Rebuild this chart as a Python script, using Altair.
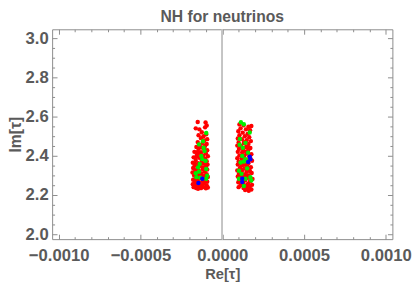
import altair as alt
import pandas as pd

# values of Re[tau] are given in units of 1e-4
XUNIT = 1e-4

red_x = [-1.50,-1.02,-0.95,-1.62,-1.40,-1.05,-1.25,-0.98,-1.45,-1.15,-1.30,-0.92,-1.10,-1.50,-1.20,-0.95,-1.38,-1.05,-1.58,-1.25,
         -1.45,-1.10,-0.92,-1.70,-1.30,-1.00,-1.55,-1.18,-0.88,-1.75,-1.40,-1.05,-1.62,-1.25,-0.95,-1.80,-1.48,-1.12,-0.90,-1.68,
         -1.35,-1.00,-1.78,-1.52,-1.20,-0.92,-1.65,-1.40,-1.08,-1.82,-1.55,-1.28,-0.95,-1.72,-1.45,-1.15,-0.88,-1.60,-1.32,-1.02,
         -1.78,-1.50,-1.20,-0.92,-1.68,-1.38,-1.10,-1.80,-1.55,-1.25,-0.95,-1.70,-1.42,-1.12,-0.88,-1.60,-1.30,-1.00,-1.48,-1.75,
         -1.58,-1.22,-1.60,-1.05,-1.45,-1.65,-1.35,-1.15,-1.38,-1.50,-1.70,-1.28,-1.05,-1.40,
         1.05,1.30,1.78,1.60,1.12,1.45,1.70,0.98,1.25,1.55,1.05,1.38,1.65,0.95,1.20,1.50,1.75,1.00,1.32,1.60,
         0.92,1.15,1.45,1.72,1.02,1.28,1.58,0.95,1.22,1.50,1.78,1.05,1.35,1.65,0.92,1.18,1.45,1.82,1.00,1.30,
         1.60,0.95,1.22,1.52,1.75,1.08,1.38,1.65,0.92,1.20,1.48,1.80,1.02,1.32,1.60,0.95,1.25,1.55,1.85,1.10,
         1.40,1.70,0.98,1.28,1.58,1.82,1.12,1.42,1.68,1.00,1.30,1.55,1.78,1.40,1.62,1.15,1.45,1.62,1.10,1.40,
         1.70,1.25,1.35,1.50,1.05,1.72,1.20,1.55,1.35]
red_y = [2.572,2.570,2.555,2.540,2.535,2.545,2.520,2.510,2.505,2.500,2.490,2.485,2.478,2.470,2.465,2.460,2.455,2.450,2.445,2.442,
         2.435,2.432,2.428,2.420,2.418,2.412,2.405,2.402,2.398,2.392,2.390,2.385,2.378,2.375,2.372,2.365,2.362,2.360,2.355,2.350,
         2.348,2.345,2.338,2.335,2.333,2.330,2.325,2.322,2.320,2.315,2.312,2.310,2.306,2.300,2.298,2.295,2.292,2.288,2.285,2.282,
         2.278,2.275,2.272,2.268,2.265,2.262,2.260,2.255,2.252,2.250,2.248,2.245,2.242,2.240,2.238,2.236,2.235,2.234,2.232,2.240,
         2.395,2.395,2.310,2.300,2.350,2.280,2.300,2.340,2.410,2.420,2.360,2.360,2.270,2.250,
         2.560,2.555,2.552,2.548,2.540,2.535,2.530,2.525,2.518,2.512,2.505,2.500,2.495,2.488,2.485,2.480,2.475,2.468,2.465,2.460,
         2.452,2.450,2.445,2.440,2.435,2.432,2.428,2.420,2.418,2.412,2.408,2.402,2.400,2.395,2.388,2.385,2.380,2.375,2.370,2.368,
         2.362,2.355,2.352,2.348,2.342,2.338,2.335,2.330,2.325,2.322,2.318,2.312,2.308,2.305,2.300,2.295,2.292,2.288,2.282,2.280,
         2.275,2.270,2.265,2.262,2.258,2.252,2.250,2.246,2.242,2.240,2.236,2.232,2.228,2.225,2.222,2.300,2.420,2.440,2.360,2.300,
         2.320,2.395,2.470,2.250,2.275,2.385,2.330,2.370,2.355]

green_x = [-0.98,-1.42,-1.18,-1.28,-1.22,-1.38,-1.02,-0.98,-1.62,-1.58,-1.34,-0.98,-1.42,-1.08,-1.14,-0.92,-1.48,
           1.14,1.32,1.68,1.08,1.06,1.42,1.26,1.58,1.42,1.12,1.32,1.02,1.52,1.18,1.72,1.42,1.02,1.32,1.78,1.22]
green_y = [2.516,2.458,2.474,2.399,2.383,2.358,2.374,2.333,2.311,2.291,2.288,2.283,2.319,2.424,2.441,2.299,2.341,
           2.571,2.561,2.519,2.486,2.456,2.466,2.441,2.416,2.383,2.366,2.371,2.324,2.336,2.308,2.291,2.283,2.283,2.246,2.274,2.399]

blue_x = [-1.22,-1.46,1.68,1.72,1.58,1.22,1.22]
blue_y = [2.283,2.261,2.396,2.383,2.369,2.283,2.266]

groups = ["red", "green", "blue"]
colors = ["#ff0000", "#00ee00", "#0000ff"]

x_major = [-0.0010, -0.0005, 0.0, 0.0005, 0.0010]
x_minor = [-0.0009,-0.0008,-0.0007,-0.0006,-0.0004,-0.0003,-0.0002,-0.0001,
           0.0001,0.0002,0.0003,0.0004,0.0006,0.0007,0.0008,0.0009]
y_major = [2.0, 2.2, 2.4, 2.6, 2.8, 3.0]
y_minor = [2.05,2.1,2.15,2.25,2.3,2.35,2.45,2.5,2.55,2.65,2.7,2.75,2.85,2.9,2.95]
x_domain = [-0.00104, 0.00104]
y_domain = [1.975, 3.045]

rows = []
for g, xs_, ys_ in [("red", red_x, red_y), ("green", green_x, green_y), ("blue", blue_x, blue_y)]:
    for a, b in zip(xs_, ys_):
        rows.append({"re": a * XUNIT, "im": b, "g": g, "o": groups.index(g)})
df = pd.DataFrame(rows)

W, H = 347, 214
FONT = "Liberation Sans"
TXT = "#5a5a5a"
FRAME = "#8c8c8c"
MAJ, MIN = 5, 2.5

xs = alt.Scale(domain=x_domain, nice=False, zero=False)
ys = alt.Scale(domain=y_domain, nice=False, zero=False)


def tick_axis(orient, off, values, size):
    return alt.Axis(orient=orient, offset=off, values=values, labels=False, domain=False, grid=False,
                    title=None, tickColor=FRAME, tickWidth=1, tickSize=size)


zero = alt.Chart(df).mark_rule(color="#c4c4c4", strokeWidth=1).encode(
    x=alt.XDatum(0, type="quantitative", scale=xs, axis=None)
)

pts = alt.Chart(df).mark_circle(size=20, opacity=1).encode(
    x=alt.X("re:Q", scale=xs, axis=alt.Axis(
        orient="bottom", values=x_major, format=".4f", ticks=False, tickSize=0, domain=False, grid=False,
        labelFont=FONT, labelFontSize=17, labelFontWeight="bold", labelColor=TXT, labelPadding=9,
        labelOverlap=False, title="Re[τ]", titleFont=FONT, titleFontSize=15, titleFontWeight="bold",
        titleColor=TXT, titlePadding=3)),
    y=alt.Y("im:Q", scale=ys, axis=alt.Axis(
        orient="left", values=y_major, format=".1f", ticks=False, tickSize=0, domain=False, grid=False,
        labelFont=FONT, labelFontSize=17, labelFontWeight="bold", labelColor=TXT, labelPadding=4,
        title="Im[τ]", titleFont=FONT, titleFontSize=16, titleFontWeight="bold",
        titleColor=TXT, titlePadding=2)),
    color=alt.Color("g:N", scale=alt.Scale(domain=groups, range=colors), legend=None),
    order=alt.Order("o:Q"),
)

# inward major ticks on bottom and left edges
t_major = alt.Chart(df).mark_point(opacity=0).encode(
    x=alt.X("re:Q", scale=xs, axis=tick_axis("bottom", -MAJ, x_major, MAJ)),
    y=alt.Y("im:Q", scale=ys, axis=tick_axis("left", -MAJ, y_major, MAJ)),
)
# inward minor ticks on bottom and left edges
t_minor = alt.Chart(df).mark_point(opacity=0).encode(
    x=alt.X("re:Q", scale=xs, axis=tick_axis("bottom", -MIN, x_minor, MIN)),
    y=alt.Y("im:Q", scale=ys, axis=tick_axis("left", -MIN, y_minor, MIN)),
)
# inward ticks on top and right edges
t_far = alt.Chart(df).mark_point(opacity=0).encode(
    x=alt.X("re:Q", scale=xs, axis=alt.Axis(
        orient="bottom", offset=-H, values=x_major + x_minor, labels=False, domain=False, grid=False,
        title=None, tickColor=FRAME, tickWidth=1,
        tickSize={"condition": {"test": "abs(round(datum.value*10000)) % 5 == 0", "value": MAJ}, "value": MIN})),
    y=alt.Y("im:Q", scale=ys, axis=alt.Axis(
        orient="left", offset=-W, values=y_major + y_minor, labels=False, domain=False, grid=False,
        title=None, tickColor=FRAME, tickWidth=1,
        tickSize={"condition": {"test": "abs(round(datum.value*100)) % 20 == 0", "value": MAJ}, "value": MIN})),
)

chart = alt.layer(zero, t_major, t_minor, t_far, pts).resolve_axis(
    x="independent", y="independent"
).properties(
    width=W, height=H,
    title=alt.TitleParams("NH for neutrinos", font=FONT, fontSize=16, fontWeight="bold",
                          color=TXT, anchor="middle", offset=4),
    padding={"left": 45, "top": 19, "right": 20, "bottom": 42},
    autosize="none",
).configure_view(stroke=FRAME, strokeWidth=1)

chart.save("out.html", embed_options={"renderer": "svg", "actions": False})
